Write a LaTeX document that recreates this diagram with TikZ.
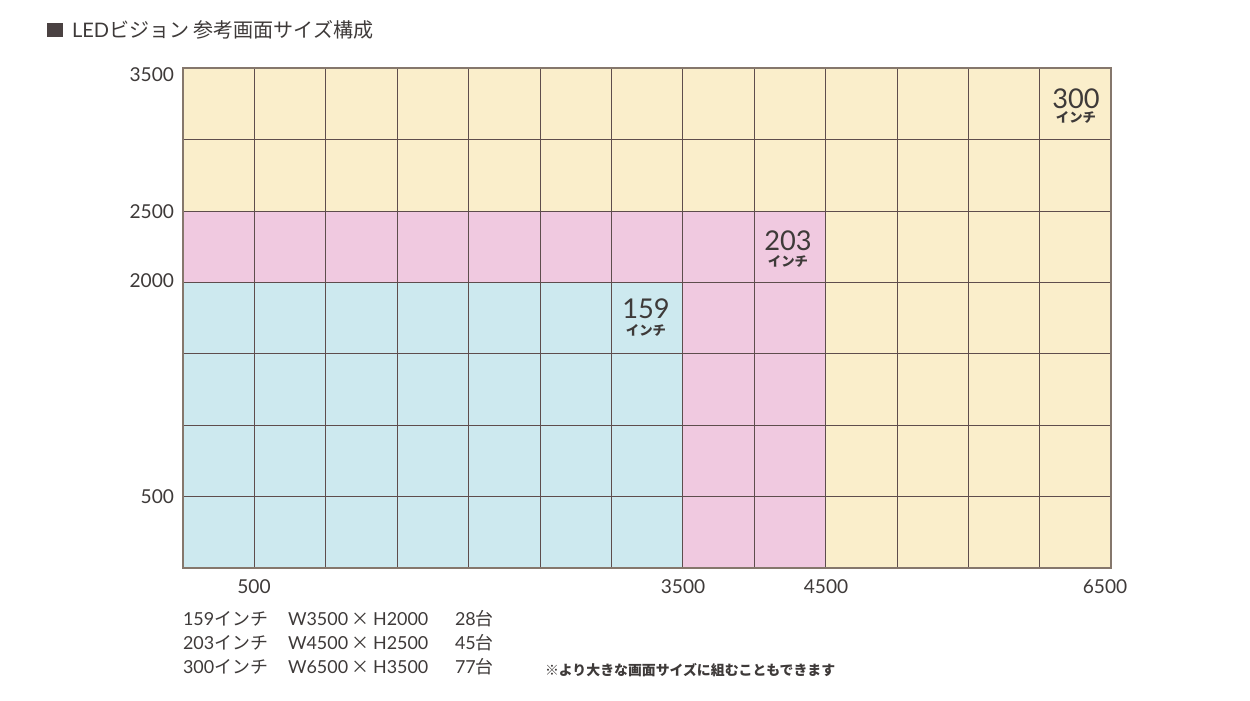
\documentclass[tikz,border=0pt]{standalone}
\usepackage{fontspec}
\setmainfont{Lato}
\newfontfamily\jp{Noto Sans CJK JP}
\definecolor{txt}{HTML}{3E3A39}
\definecolor{yel}{HTML}{FAEECB}
\definecolor{pnk}{HTML}{F0C9E0}
\definecolor{blu}{HTML}{CDE9EF}
\definecolor{grd}{HTML}{5E4D4D}
\definecolor{brd}{HTML}{85776C}
\definecolor{sq}{HTML}{4A4142}
\newcommand{\tms}{\hspace{2pt}{\jp ×}\hspace{2pt}}
\begin{document}
\begin{tikzpicture}[x=0.02cm,y=-0.02cm,
  every node/.style={text=txt,inner sep=0pt,outer sep=0pt},
  title/.style={anchor=west,font=\fontsize{11.4pt}{13pt}\selectfont},
  axis/.style={font=\fontsize{10.9pt}{12pt}\selectfont},
  big/.style={font=\fontsize{15.5pt}{17pt}\selectfont,text height=8pt,text depth=0pt},
  unit/.style={font=\fontsize{7.6pt}{8pt}\selectfont\jp\bfseries,text height=5pt,text depth=0.5pt},
  info/.style={anchor=west,font=\fontsize{10.2pt}{11pt}\selectfont},
  note/.style={anchor=west,font=\fontsize{7.9pt}{9pt}\selectfont\jp\bfseries},
  gridline/.style={draw=grd,line width=0.55pt}]
\useasboundingbox (0,0) rectangle (1250,700);
\def\cw{71.4}
% title
\fill[sq] (47,23) rectangle (63,37);
\node[title] (ttl) at (72,30) {LED{\jp ビジョン 参考画面サイズ構成}};
% fills
\fill[yel] (183,68) rectangle (1111,568);
\fill[pnk] (183,{568-5*\cw}) rectangle ({183+9*\cw},568);
\fill[blu] (183,{568-4*\cw}) rectangle ({183+7*\cw},568);
% grid
\foreach \i in {1,...,12} \draw[gridline] ({183+\i*\cw},68) -- ({183+\i*\cw},568);
\foreach \j in {1,...,6} \draw[gridline] (183,{568-\j*\cw}) -- (1111,{568-\j*\cw});
\draw[brd,line width=0.7pt] (183,68) rectangle (1111,568);
% y labels
\node[axis,anchor=east] (y3500) at (174,75) {3500};
\node[axis,anchor=east] (y2500) at (174,212) {2500};
\node[axis,anchor=east] (y2000) at (174,281) {2000};
\node[axis,anchor=east] (y500) at (174,497) {500};
% x labels
\node[axis] (x500) at (254,587) {500};
\node[axis] (x3500) at (683,587) {3500};
\node[axis] (x4500) at (826,587) {4500};
\node[axis] (x6500) at (1105,587) {6500};
% size labels
\node[big] (n300) at (1076,101) {300};
\node[unit] (u300) at (1076,119) {インチ};
\node[big] (n203) at (788,243) {203};
\node[unit] (u203) at (788,263) {インチ};
\node[big] (n159) at (646,311) {159};
\node[unit] (u159) at (646,332) {インチ};
% info lines
\node[info] (a1) at (183,619) {159{\jp インチ}};
\node[info] (b1) at (288,619) {W3500\tms H2000};
\node[info] (c1) at (455,619) {28{\jp 台}};
\node[info] (a2) at (183,643) {203{\jp インチ}};
\node[info] (b2) at (288,643) {W4500\tms H2500};
\node[info] (c2) at (455,643) {45{\jp 台}};
\node[info] (a3) at (183,667) {300{\jp インチ}};
\node[info] (b3) at (288,667) {W6500\tms H3500};
\node[info] (c3) at (455,667) {77{\jp 台}};
\node[note] (nt) at (545,670) {※より大きな画面サイズに組むこともできます};
\end{tikzpicture}
\end{document}
